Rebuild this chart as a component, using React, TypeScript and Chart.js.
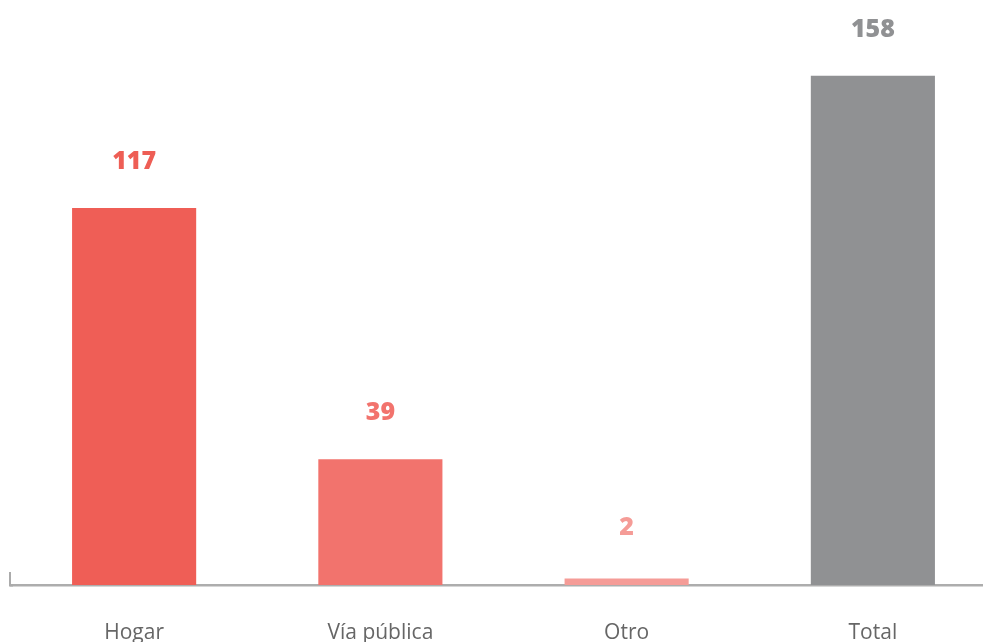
import React, { useEffect, useRef } from "react";
import { Chart, registerables } from "chart.js";

Chart.register(...registerables);

const categories = ["Hogar", "Vía pública", "Otro", "Total"];
const values = [117, 39, 2, 158];
const barColors = ["#EF5E56", "#F2736D", "#F59C97", "#909193"];
const labelColors = ["#EE5E55", "#F2736D", "#F59C97", "#909193"];

const valueLabels = {
  id: "valueLabels",
  afterDatasetsDraw(chart: any) {
    const ctx = chart.ctx;
    const meta = chart.getDatasetMeta(0);
    const base = chart.chartArea.bottom;
    ctx.save();
    ctx.font = "800 25px 'Open Sans', sans-serif";
    ctx.textAlign = "center";
    ctx.textBaseline = "middle";
    meta.data.forEach((bar: any, i: number) => {
      ctx.fillStyle = labelColors[i];
      const top = Math.min(bar.y, base - 11);
      ctx.fillText(String(values[i]), bar.x, top - 46);
    });
    // small left tick of the axis
    ctx.strokeStyle = "#ababab";
    ctx.lineWidth = 2;
    ctx.beginPath();
    ctx.moveTo(10, base - 13);
    ctx.lineTo(10, base + 1.5);
    ctx.moveTo(9, base + 0.5);
    ctx.lineTo(chart.chartArea.left + 2, base + 0.5);
    ctx.stroke();
    ctx.restore();
  },
};

export default function App() {
  const ref = useRef<HTMLCanvasElement>(null);
  useEffect(() => {
    document.body.style.margin = "0";
    document.body.style.overflow = "hidden";
    const chart = new Chart(ref.current!, {
      type: "bar",
      data: {
        labels: categories,
        datasets: [
          {
            data: values,
            backgroundColor: barColors,
            borderWidth: 0,
            categoryPercentage: 1,
            barPercentage: 0.504,
          },
        ],
      },
      options: {
        animation: false,
        responsive: true,
        maintainAspectRatio: false,
        layout: { padding: { left: 11, right: 0, top: 0, bottom: 0 } },
        plugins: {
          legend: { display: false },
          tooltip: { enabled: false },
        },
        scales: {
          x: {
            grid: { display: false, drawTicks: false },
            border: { display: true, color: "#adadad", width: 2.5 },
            ticks: {
              color: "#666666",
              font: { family: "'Open Sans', sans-serif", size: 21, weight: 400 as any },
              padding: 35,
            },
            afterFit(scale: any) {
              scale.height = 57;
            },
          },
          y: {
            display: false,
            min: 0,
            max: 181.5,
          },
        },
      },
      plugins: [valueLabels],
    });
    return () => chart.destroy();
  }, []);
  return (
    <div style={{ position: "absolute", left: 0, top: 0, width: 996, height: 642 }}>
      <canvas ref={ref} />
    </div>
  );
}
